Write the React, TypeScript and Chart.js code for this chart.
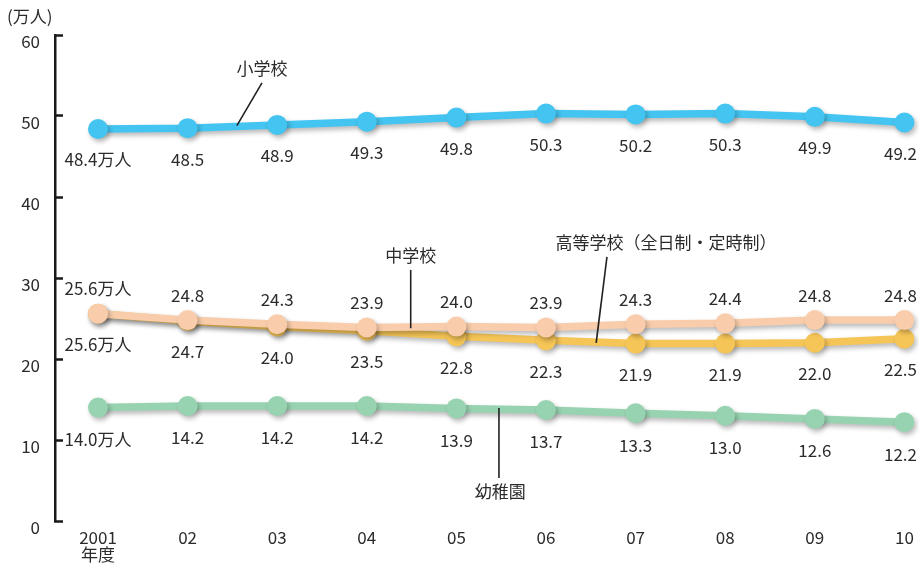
import React, { useEffect, useRef } from "react";
import { Chart, registerables } from "chart.js";

Chart.register(...registerables);

const years = ["2001", "02", "03", "04", "05", "06", "07", "08", "09", "10"];
const elementary = [48.4, 48.5, 48.9, 49.3, 49.8, 50.3, 50.2, 50.3, 49.9, 49.2];
const highSchool = [25.6, 24.8, 24.3, 23.9, 24.0, 23.9, 24.3, 24.4, 24.8, 24.8];
const juniorHigh = [25.6, 24.7, 24.0, 23.5, 22.8, 22.3, 21.9, 21.9, 22.0, 22.5];
const kindergarten = [14.0, 14.2, 14.2, 14.2, 13.9, 13.7, 13.3, 13.0, 12.6, 12.2];
const yTicks = [0, 10, 20, 30, 40, 50, 60];

const FONT = '"Noto Sans CJK JP", "Noto Sans", sans-serif';
const TEXT = "#2b2b2b";

const fmt = (v: number) => v.toFixed(1);

export default function App() {
  const ref = useRef<HTMLCanvasElement | null>(null);

  useEffect(() => {
    document.body.style.margin = "0";
    const canvas = ref.current!;
    const mk = (vals: number[]) => vals.map((v, i) => ({ x: i, y: v }));

    const seriesMeta = [
      { offset: 31, data: elementary },
      { offset: -25, data: highSchool },
      { offset: 31, data: juniorHigh },
      { offset: 32, data: kindergarten },
    ];

    const shadowPlugin = {
      id: "shadow",
      beforeDatasetDraw(chart: any) {
        const c = chart.ctx;
        c.save();
        c.shadowColor = "rgba(0,0,0,0.28)";
        c.shadowBlur = 5;
        c.shadowOffsetX = 2;
        c.shadowOffsetY = 3;
      },
      afterDatasetDraw(chart: any) {
        chart.ctx.restore();
      },
    };

    const annotations = [
      { text: "小学校", tx: 1.83, ty: 55.9, line: [1.83, 54.1, 1.55, 48.8] },
      { text: "中学校", tx: 3.49, ty: 32.8, line: [3.49, 31.0, 3.49, 23.8] },
      { text: "高等学校（全日制・定時制）", tx: 6.34, ty: 34.4, line: [5.68, 32.6, 5.56, 22.0] },
      { text: "幼稚園", tx: 4.49, ty: 3.6, line: [4.475, 13.95, 4.475, 5.3] },
    ];

    const labelPlugin = {
      id: "labels",
      afterDatasetsDraw(chart: any) {
        const c = chart.ctx;
        const xs = chart.scales.x;
        const ys = chart.scales.y;
        const W = chart.width;
        c.save();
        c.fillStyle = TEXT;
        c.font = `17px ${FONT}`;
        c.textAlign = "center";
        c.textBaseline = "middle";
        seriesMeta.forEach((s, di) => {
          const meta = chart.getDatasetMeta(di);
          meta.data.forEach((pt: any, i: number) => {
            const txt = fmt(s.data[i]) + (i === 0 ? "万人" : "");
            const w = c.measureText(txt).width;
            const x = Math.min(pt.x, W - 2 - w / 2);
            c.fillText(txt, x, pt.y + s.offset);
          });
        });
        c.strokeStyle = "#222";
        c.lineWidth = 1.6;
        annotations.forEach((a) => {
          c.fillText(a.text, xs.getPixelForValue(a.tx), ys.getPixelForValue(a.ty));
          c.beginPath();
          c.moveTo(xs.getPixelForValue(a.line[0]), ys.getPixelForValue(a.line[1]));
          c.lineTo(xs.getPixelForValue(a.line[2]), ys.getPixelForValue(a.line[3]));
          c.stroke();
        });
        c.textAlign = "left";
        c.fillText("(万人)", 7, 17);
        c.restore();
      },
    };

    const ds = (label: string, data: number[], color: string, order: number) => ({
      label,
      data: mk(data),
      borderColor: color,
      backgroundColor: color,
      pointBackgroundColor: color,
      pointBorderColor: color,
      borderWidth: 7.5,
      pointRadius: 10,
      pointBorderWidth: 0,
      tension: 0,
      clip: false,
      order,
    });

    const chart = new Chart(canvas, {
      type: "line",
      data: {
        datasets: [
          ds("小学校", elementary, "#44C4F0", 1),
          ds("高等学校（全日制・定時制）", highSchool, "#F9CDAB", 2),
          ds("中学校", juniorHigh, "#F6C557", 3),
          ds("幼稚園", kindergarten, "#98D3B1", 4),
        ],
      },
      options: {
        responsive: false,
        animation: false,
        layout: { autoPadding: false, padding: { top: 35, right: 0, bottom: 0, left: 0 } },
        plugins: { legend: { display: false }, tooltip: { enabled: false } },
        scales: {
          x: {
            type: "linear",
            min: -0.48,
            max: 9.163,
            afterBuildTicks(scale: any) {
              scale.ticks = years.map((_, i) => ({ value: i }));
            },
            afterFit(scale: any) {
              scale.height = 42;
            },
            grid: { display: false },
            border: { display: false },
            ticks: {
              autoSkip: false,
              maxRotation: 0,
              padding: 0,
              color: TEXT,
              font: { family: FONT, size: 17, lineHeight: 1.02 },
              callback: (v: any) => {
                const i = Math.round(Number(v));
                return i === 0 ? [years[0], "年度"] : years[i];
              },
            },
          },
          y: {
            min: 0,
            max: 60,
            afterBuildTicks(scale: any) {
              scale.ticks = yTicks.map((v) => ({ value: v }));
            },
            afterFit(scale: any) {
              scale.width = 55;
            },
            grid: {
              display: true,
              drawOnChartArea: false,
              drawTicks: true,
              tickLength: -8,
              tickWidth: 2.5,
              tickColor: "#1a1a1a",
            },
            border: { display: true, color: "#1a1a1a", width: 2.5 },
            ticks: {
              padding: 23,
              labelOffset: 7,
              color: TEXT,
              font: { family: FONT, size: 17 },
              callback: (v: any) => String(v),
            },
          },
        },
      },
      plugins: [shadowPlugin, labelPlugin],
    } as any);

    return () => chart.destroy();
  }, []);

  return (
    <div style={{ position: "fixed", left: 0, top: 0, width: 919, height: 563, background: "#fff" }}>
      <canvas ref={ref} width={919} height={563} style={{ width: 919, height: 563, display: "block" }} />
    </div>
  );
}
